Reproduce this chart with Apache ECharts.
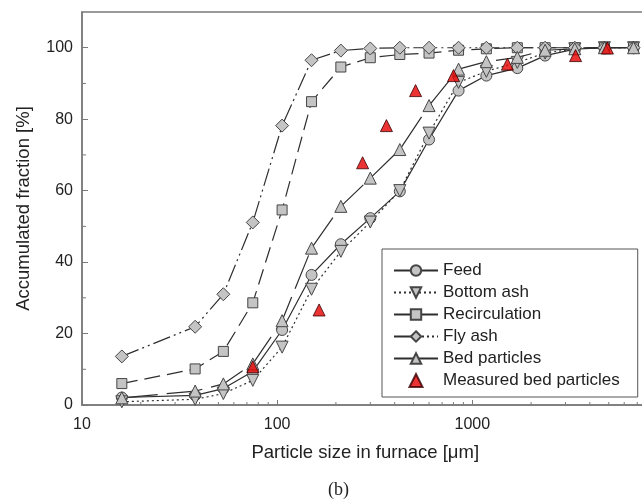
<!DOCTYPE html>
<html>
<head>
<meta charset="utf-8">
<script src="https://cdn.jsdelivr.net/npm/echarts@6/dist/echarts.min.js"></script>
<style>html,body{margin:0;padding:0;background:#fff}#c{width:642px;height:503px}</style>
</head>
<body>
<div id="c"></div>
<script>
// Particle sizes (µm)
const sizes = [16, 38, 53, 75, 106, 150, 212, 300, 425, 600, 850, 1180, 1700, 2360, 3350, 4750, 6700];
const feed = [2.1, 2.7, 4.6, 9.4, 21.0, 36.4, 45.0, 52.3, 59.8, 74.3, 88.0, 92.2, 94.3, 97.8, 99.6, 100, 100];
const bottomAsh = [0.9, 1.6, 3.2, 6.9, 16.2, 32.4, 43.0, 51.2, 60.0, 76.1, 90.3, 93.4, 95.9, 98.5, 99.7, 100, 100];
const recirculation = [6.0, 10.1, 15.0, 28.6, 54.6, 84.9, 94.6, 97.2, 98.1, 98.5, 99.3, 99.7, 100, 100, 100, 100, 100];
const flyAsh = [13.6, 21.9, 31.0, 51.1, 78.2, 96.5, 99.2, 99.8, 100, 100, 100, 100, 100, 100, 100, 100, 100];
const bedParticles = [2.0, 3.9, 5.9, 11.5, 23.6, 43.9, 55.6, 63.5, 71.5, 83.8, 94.0, 96.1, 97.3, 99.3, 99.7, 100, 100];
const measuredSizes = [75, 164, 274, 363, 512, 801, 1513, 3381, 4922];
const measuredValues = [10.7, 26.6, 67.8, 78.2, 88.0, 92.2, 95.4, 97.8, 99.9];

const xMinorTicks = [20,30,40,50,60,70,80,90,200,300,400,500,600,700,800,900,2000,3000,4000,5000,6000,7000,8000,9000];
const yMinorTicks = [10,30,50,70,90];
const yTickValues = [0,20,40,60,80,100];

const pair = (xs, ys) => xs.map((x, i) => [x, ys[i]]);

const LINE = '#2e2e2e';
const FILL = '#c4c4c4';
const EDGE = '#454545';
const AXIS = '#7a7a7a';
const FONT = 'Liberation Sans, Arial, sans-serif';

function lineSeries(name, ys, symbol, size, dash, rotate) {
  return {
    name: name, type: 'line', data: pair(sizes, ys),
    symbol: symbol, symbolSize: size, symbolRotate: rotate || 0,
    showAllSymbol: true,
    lineStyle: { color: LINE, width: 1.2, type: dash },
    itemStyle: { color: FILL, borderColor: EDGE, borderWidth: 1 },
    emphasis: { disabled: true },
    animation: false
  };
}

const chart = echarts.init(document.getElementById('c'), null, { renderer: 'canvas' });
chart.setOption({
  animation: false,
  backgroundColor: '#fff',
  textStyle: { fontFamily: FONT },
  grid: { left: 82, right: -25.5, top: 12, bottom: 98, outerBoundsMode: 'none', containLabel: false,
    show: true, borderColor: AXIS, borderWidth: 1.5, backgroundColor: 'transparent' },
  xAxis: {
    type: 'log', logBase: 10, min: 10, max: 10000,
    name: 'Particle size in furnace [\u03bcm]', nameLocation: 'middle', nameGap: 38,
    nameTextStyle: { fontSize: 18.5, color: '#222', fontFamily: FONT, padding: [0, 19, 0, 0] },
    axisLine: { lineStyle: { color: AXIS, width: 1.5 } },
    axisTick: { inside: true, length: 5, lineStyle: { color: AXIS, width: 1 } },
    axisLabel: { fontSize: 16, color: '#222', margin: 12, fontFamily: FONT, formatter: v => String(Math.round(v)) },
    splitLine: { show: false }
  },
  yAxis: {
    type: 'value', min: 0, max: 110, interval: 20,
    name: 'Accumulated fraction [%]', nameLocation: 'middle', nameGap: 49,
    nameTextStyle: { fontSize: 18.5, color: '#222', fontFamily: FONT },
    axisLine: { show: true, lineStyle: { color: AXIS, width: 1.5 } },
    axisTick: { inside: true, length: 6, lineStyle: { color: AXIS, width: 1 } },
    axisLabel: { fontSize: 16, color: '#222', margin: 9, fontFamily: FONT, showMaxLabel: false,
      formatter: v => yTickValues.indexOf(v) >= 0 ? String(v) : '' },
    splitLine: { show: false }
  },
  legend: {
    orient: 'vertical', left: 382, top: 249,
    backgroundColor: '#fff', borderColor: '#555', borderWidth: 1,
    padding: [13, 18, 8, 11],
    itemWidth: 44, itemHeight: 13, itemGap: 5,
    symbolKeepAspect: true,
    textStyle: { fontSize: 17, color: '#222', fontFamily: FONT, lineHeight: 16 },
    data: [
      { name: 'Feed', lineStyle: { type: 'solid' } },
      { name: 'Bottom ash', lineStyle: { type: [2, 3] } },
      { name: 'Recirculation', lineStyle: { type: 'solid' } },
      { name: 'Fly ash', lineStyle: { type: [20, 3, 2, 3, 2, 3, 2, 3, 2, 3] } },
      { name: 'Bed particles', lineStyle: { type: 'solid' } },
      { name: 'Measured bed particles', icon: 'path://M0,13L6.5,0L13,13Z' }
    ]
  },
  series: [
    lineSeries('Feed', feed, 'circle', 11, 'solid'),
    lineSeries('Bottom ash', bottomAsh, 'triangle', 12, [2, 3], 180),
    lineSeries('Recirculation', recirculation, 'rect', 10, [16, 7]),
    lineSeries('Fly ash', flyAsh, 'diamond', 13, [18, 4, 2, 4, 2, 4]),
    lineSeries('Bed particles', bedParticles, 'triangle', 12, [36, 9]),
    {
      name: 'Measured bed particles', type: 'scatter', data: pair(measuredSizes, measuredValues),
      symbol: 'triangle', symbolSize: 12, z: 5,
      itemStyle: { color: '#e60000', borderColor: '#3a0000', borderWidth: 1 },
      emphasis: { disabled: true }
    },
    {
      name: 'xminor', type: 'custom', silent: true, z: 1,
      data: xMinorTicks.map(v => [v, 0]),
      renderItem: (params, api) => {
        const p = api.coord([api.value(0), api.value(1)]);
        return { type: 'line', shape: { x1: p[0], y1: p[1], x2: p[0], y2: p[1] - 3 }, style: { stroke: AXIS, lineWidth: 1 } };
      }
    },
    {
      name: 'yminor', type: 'custom', silent: true, z: 1,
      data: yMinorTicks.map(v => [10, v]),
      renderItem: (params, api) => {
        const p = api.coord([api.value(0), api.value(1)]);
        return { type: 'line', shape: { x1: p[0], y1: p[1], x2: p[0] + 4, y2: p[1] }, style: { stroke: AXIS, lineWidth: 1 } };
      }
    }
  ],
  graphic: [
    { type: 'text', left: 328, top: 481, style: { text: '(b)', fontSize: 18, fontFamily: 'Liberation Serif, Times New Roman, serif', fill: '#222' } }
  ]
});
</script>
</body>
</html>
